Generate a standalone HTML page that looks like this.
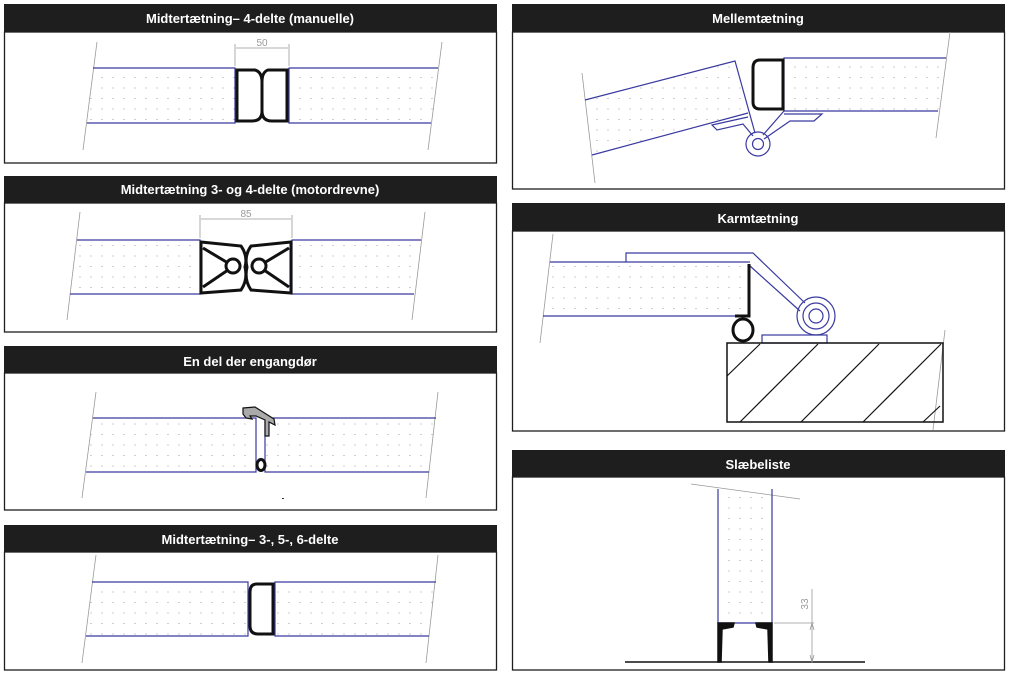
<!DOCTYPE html>
<html><head><meta charset="utf-8"><style>
html,body{margin:0;padding:0;background:#fff;}
svg{display:block;}
.h{font-family:"Liberation Sans",sans-serif;font-weight:bold;font-size:13px;fill:#fff;text-anchor:middle;}
.box{fill:#fff;stroke:#1e1e1e;stroke-width:1.3;}
.hd{fill:#1e1e1e;}
.g{stroke:#999;stroke-width:0.8;fill:none;}
.b{stroke:#3a3aa0;stroke-width:1.2;fill:none;}
.k{stroke:#111;stroke-width:3;fill:none;}
.d{font-family:"Liberation Sans",sans-serif;font-size:10px;fill:#999;text-anchor:middle;}
</style></head><body>
<svg width="1011" height="676" viewBox="0 0 1011 676" xmlns="http://www.w3.org/2000/svg">
<defs>
<pattern id="dots" width="11" height="10.5" patternUnits="userSpaceOnUse">
<circle cx="3" cy="4" r="0.55" fill="#888"/>
</pattern>
</defs>

<!-- Panel 1 -->
<rect class="box" x="4.5" y="32" width="492" height="131"/>
<rect class="hd" x="4" y="4" width="493" height="28"/>
<text class="h" x="250" y="23">Midtertætning– 4-delte (manuelle)</text>
<line class="g" x1="97" y1="42" x2="83" y2="150"/><line class="g" x1="442" y1="42" x2="428" y2="150"/>
<polygon points="93,68 235,68 235,123 87,123" fill="url(#dots)"/>
<polygon points="289,68 438,68 431,123 289,123" fill="url(#dots)"/>
<path class="b" d="M93,68H235V123H87M438,68H289V123H431"/>
<line class="g" x1="235" y1="66" x2="235" y2="44"/><line class="g" x1="289" y1="66" x2="289" y2="44"/>
<line class="g" x1="236" y1="48" x2="288" y2="48"/>
<text class="d" x="262" y="46">50</text>
<path class="k" d="M237,70 H255 Q262,72 262,82 V111 Q262,121 252,121 H237 Z"/>
<path class="k" d="M287,70 H268 Q262,72 262,82 V111 Q262,121 272,121 H287 Z"/>

<!-- Panel 2 -->
<rect class="box" x="4.5" y="203" width="492" height="129"/>
<rect class="hd" x="4" y="176" width="493" height="27"/>
<text class="h" x="250" y="194">Midtertætning 3- og 4-delte (motordrevne)</text>
<line class="g" x1="80" y1="212" x2="67" y2="320"/><line class="g" x1="425" y1="212" x2="412" y2="320"/>
<polygon points="77,240 200,240 200,294 70,294" fill="url(#dots)"/>
<polygon points="292,240 421,240 414,294 292,294" fill="url(#dots)"/>
<path class="b" d="M77,240H200V294H70M421,240H292V294H414" stroke="#8a8acc"/>
<line class="g" x1="200" y1="238" x2="200" y2="215"/><line class="g" x1="292" y1="238" x2="292" y2="215"/>
<line class="g" x1="201" y1="219" x2="291" y2="219"/>
<text class="d" x="246" y="217">85</text>
<path class="k" d="M201,242 L241,246 Q248,256 245,267 Q248,280 241,290 L201,293 Z M203,248 L228,263 M228,270 L203,287"/>
<circle cx="233" cy="266" r="7" class="k" stroke-width="2.5"/>
<path class="k" d="M291,242 L251,246 Q244,256 247,267 Q244,280 251,290 L291,293 Z M289,248 L264,263 M264,270 L289,287"/>
<circle cx="259" cy="266" r="7" class="k" stroke-width="2.5"/>

<!-- Panel 3 -->
<rect class="box" x="4.5" y="373" width="492" height="137"/>
<rect class="hd" x="4" y="346" width="493" height="27"/>
<text class="h" x="250" y="366">En del der engangdør</text>
<line class="g" x1="96" y1="392" x2="82" y2="498"/><line class="g" x1="438" y1="392" x2="426" y2="498"/>
<polygon points="93,418 256,418 256,472 86,472" fill="url(#dots)"/>
<polygon points="265,418 436,418 429,472 265,472" fill="url(#dots)"/>
<path class="b" d="M93,418H256V472H86M436,418H265V472H429"/>
<path d="M243,408 L255,407 L274,419 L275,425 L269,422 L269,436 L265,436 L265,420 L256,416 L250,416 L252,419 L246,418 L243,414 Z" fill="#aaa" stroke="#111" stroke-width="1.2"/>
<ellipse cx="261" cy="465" rx="4" ry="5.5" class="k" stroke-width="2.2"/>
<rect x="282" y="498" width="2" height="1" fill="#333"/>

<!-- Panel 4 -->
<rect class="box" x="4.5" y="552" width="492" height="118"/>
<rect class="hd" x="4" y="525" width="493" height="27"/>
<text class="h" x="250" y="544">Midtertætning– 3-, 5-, 6-delte</text>
<line class="g" x1="96" y1="555" x2="82" y2="663"/><line class="g" x1="438" y1="555" x2="426" y2="663"/>
<polygon points="92,582 248,582 248,636 86,636" fill="url(#dots)"/>
<polygon points="275,582 436,582 429,636 275,636" fill="url(#dots)"/>
<path class="b" d="M92,582H248V636H86M436,582H275V636H429"/>
<path class="k" d="M273,584 H257 Q250,584 250,592 V626 Q250,634 258,634 H273 Z"/>

<!-- R1 Mellemtætning -->
<rect class="box" x="512.5" y="32" width="492" height="157"/>
<rect class="hd" x="512" y="4" width="493" height="28"/>
<text class="h" x="758" y="23">Mellemtætning</text>
<line class="g" x1="582" y1="73" x2="595" y2="183"/><line class="g" x1="950" y1="32" x2="936" y2="138"/>
<polygon points="585,100 735,61 748,113 592,155" fill="url(#dots)"/>
<polygon points="784,58 946,58 938,111 784,111" fill="url(#dots)"/>
<path class="b" d="M585,100 L735,61 L755,133 M748,113 L592,155 M946,58 H784 V111 H938"/>
<path class="b" d="M748,117 L712,125 L717,130 L743,124 L753,136"/>
<path class="b" d="M784,111 L763,135 M764,139 L790,121 L814,121 L822,114 L784,114"/>
<circle cx="758" cy="144" r="12" class="b"/><circle cx="758" cy="144" r="5.5" class="b" stroke-width="2"/>
<path class="k" d="M783,60 H760 Q753,60 753,68 V102 Q753,109 760,109 H783 Z"/>

<!-- R2 Karmtætning -->
<rect class="box" x="512.5" y="231" width="492" height="200"/>
<rect class="hd" x="512" y="203" width="493" height="28"/>
<text class="h" x="758" y="223">Karmtætning</text>
<line class="g" x1="553" y1="234" x2="540" y2="343"/><line class="g" x1="945" y1="330" x2="933" y2="430"/>
<polygon points="550,262 750,262 750,316 543,316" fill="url(#dots)"/>
<path class="b" d="M550,262 H750 M543,316 H750" stroke-width="1.8"/>
<path class="b" d="M626,262 V253 H753 L805,303 M750,266 L800,311"/>
<circle cx="816" cy="316" r="19" class="b"/><circle cx="816" cy="316" r="13" class="b" stroke-width="2"/><circle cx="816" cy="316" r="7" class="b"/>
<path class="k" d="M749,264 V316 H735"/>
<ellipse cx="743" cy="330" rx="10" ry="11" class="k"/>
<rect x="762" y="335" width="65" height="8" class="b"/>
<rect x="727" y="343" width="216" height="79" fill="none" stroke="#111" stroke-width="1.5"/>
<path stroke="#111" stroke-width="1.2" fill="none" d="M727,376 L760,344 M740,422 L818,344 M801,422 L879,344 M863,422 L941,344 M923,422 L940,406"/>

<!-- R3 Slæbeliste -->
<rect class="box" x="512.5" y="477" width="492" height="193"/>
<rect class="hd" x="512" y="450" width="493" height="27"/>
<text class="h" x="758" y="469">Slæbeliste</text>
<line class="g" x1="691" y1="484" x2="800" y2="499"/>
<rect x="718" y="489" width="54" height="134" fill="url(#dots)"/>
<path class="b" d="M718,489 V623 H772 V489" stroke="#7777cc"/>
<path d="M718,623 L734,623 L733,627 L722,629 L721,662 L718,662 Z M772,623 L756,623 L757,627 L768,629 L769,662 L772,662 Z" fill="#111" stroke="#111" stroke-width="1.5"/>
<line x1="625" y1="662" x2="865" y2="662" stroke="#111" stroke-width="1.5"/>
<line class="g" x1="774" y1="623" x2="814" y2="623"/>
<line class="g" x1="812" y1="589" x2="812" y2="662"/>
<path d="M810,630 L812,623 L814,630 M810,655 L812,662 L814,655" class="g"/>
<text class="d" x="0" y="0" font-size="15" transform="translate(808,604) rotate(-90)">33</text>
</svg>
</body></html>
